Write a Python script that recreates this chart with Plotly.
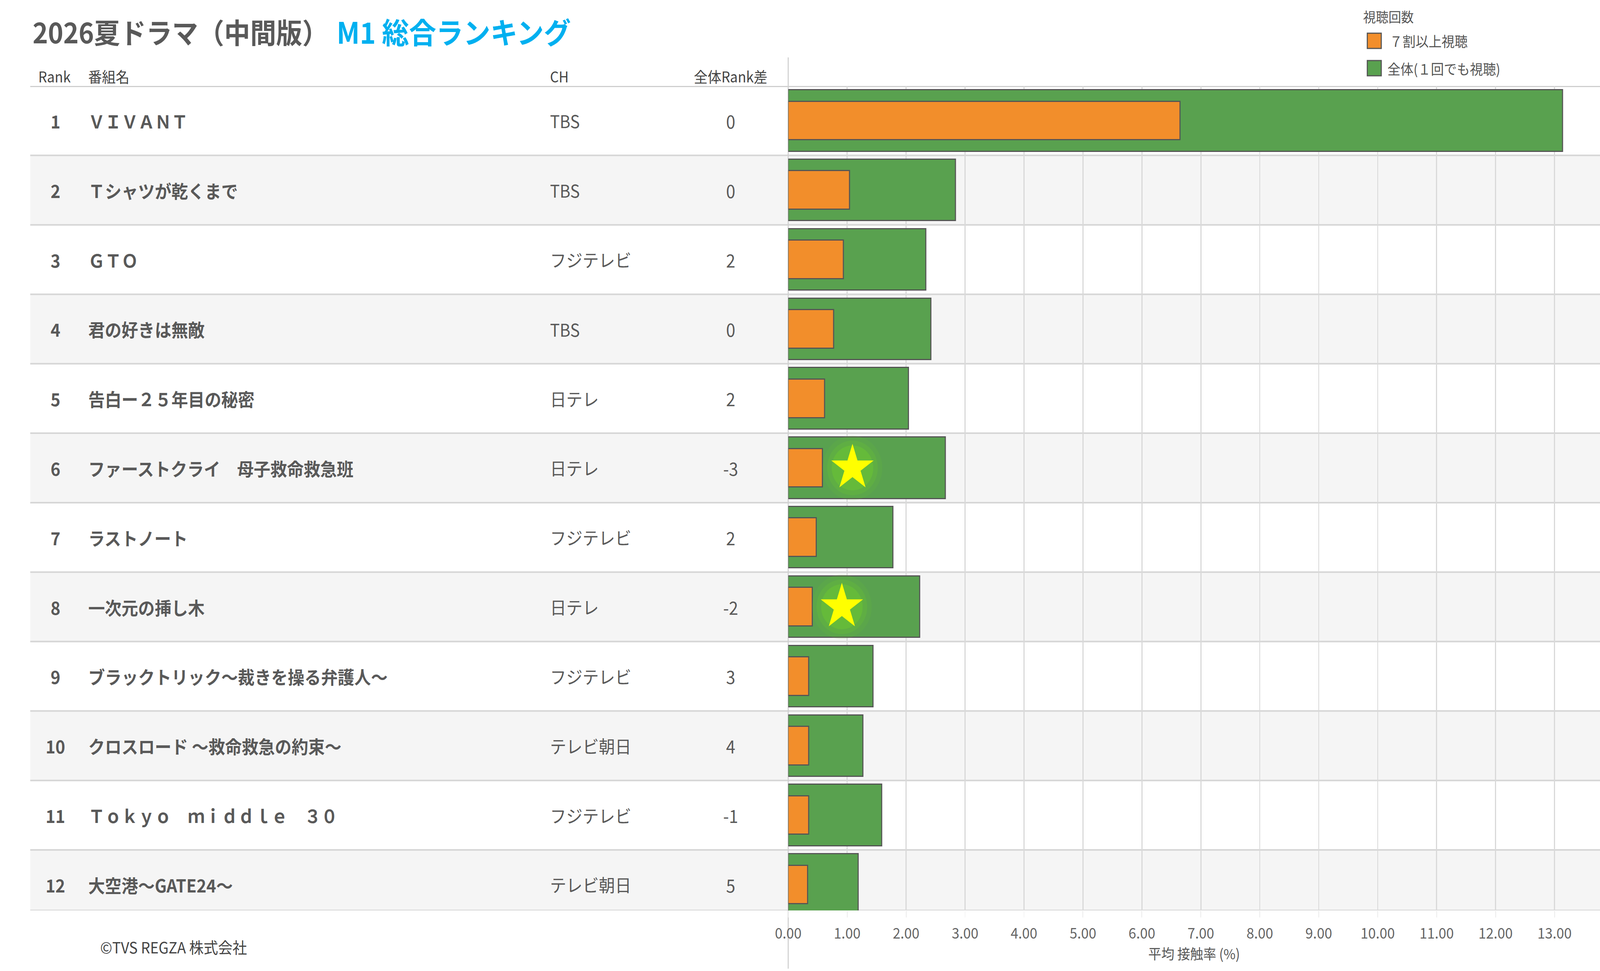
import plotly.graph_objects as go

# --- data ---
ranks = list(range(1, 13))
titles = [
    "ＶＩＶＡＮＴ",
    "Ｔシャツが乾くまで",
    "ＧＴＯ",
    "君の好きは無敵",
    "告白ー２５年目の秘密",
    "ファーストクライ　母子救命救急班",
    "ラストノート",
    "一次元の挿し木",
    "ブラックトリック～裁きを操る弁護人～",
    "クロスロード ～救命救急の約束～",
    "Ｔｏｋｙｏ　ｍｉｄｄｌｅ　３０",
    "大空港～GATE24～",
]
channels = ["TBS", "TBS", "フジテレビ", "TBS", "日テレ", "日テレ",
            "フジテレビ", "日テレ", "フジテレビ", "テレビ朝日", "フジテレビ", "テレビ朝日"]
rank_diff = [0, 0, 2, 0, 2, -3, 2, -2, 3, 4, -1, 5]

# 平均接触率 (%)
total_rate = [13.14, 2.84, 2.34, 2.42, 2.04, 2.67, 1.78, 2.23, 1.44, 1.27, 1.59, 1.19]   # 全体（１回でも視聴）
heavy_rate = [6.65, 1.04, 0.94, 0.77, 0.62, 0.58, 0.48, 0.41, 0.35, 0.35, 0.35, 0.33]    # ７割以上視聴

star_ranks = [6, 8]
star_x = [1.09, 0.91]

# --- page geometry (pixels) ---
W, H = 4425, 2486
TOP, BOTTOM = 220, 2331
AXIS_LEFT = 2161
PX_PER_UNIT = 164.4
Y_BOTTOM = 12.372          # last row is cut off by the view

FONT = "Noto Sans CJK JP"
TXT = "#595959"
GREEN = "#59A14F"
ORANGE = "#F28E2B"
OUTLINE = "#555555"


def px(x):
    return x / W


def py(y):
    return (BOTTOM - y) / (BOTTOM - TOP)


fig = go.Figure()

fig.add_trace(go.Bar(
    y=ranks, x=total_rate, orientation="h", width=0.885,
    marker=dict(color=GREEN, line=dict(color=OUTLINE, width=3)),
    name="全体(１回でも視聴)", showlegend=False,
))
fig.add_trace(go.Bar(
    y=ranks, x=heavy_rate, orientation="h", width=0.555,
    marker=dict(color=ORANGE, line=dict(color=OUTLINE, width=3)),
    name="７割以上視聴", showlegend=False,
))

# star highlight with a soft green glow
for size, alpha in [(165, 0.12), (140, 0.22), (115, 0.4)]:
    fig.add_trace(go.Scatter(
        x=star_x, y=star_ranks, mode="markers", hoverinfo="skip", showlegend=False,
        marker=dict(symbol="circle", size=size, color=f"rgba(110,205,45,{alpha})", line=dict(width=0)),
    ))
fig.add_trace(go.Scatter(
    x=star_x, y=star_ranks, mode="markers", showlegend=False,
    marker=dict(symbol="star", size=88, color="#FFFF00", line=dict(width=0)),
))

shapes = []
# alternating row bands
for r in ranks:
    if r % 2 == 0:
        shapes.append(dict(type="rect", xref="paper", yref="y", layer="below",
                           x0=px(47), x1=1, y0=r - 0.5, y1=min(r + 0.5, Y_BOTTOM),
                           fillcolor="#F5F5F5", line=dict(width=0)))
# row separators
for r in ranks:
    yb = min(r + 0.5, Y_BOTTOM)
    shapes.append(dict(type="line", xref="paper", yref="y", layer="below",
                       x0=px(47), x1=1, y0=yb, y1=yb,
                       line=dict(color="#D6D6D6", width=4)))
shapes.append(dict(type="line", xref="paper", yref="y", layer="below",
                   x0=px(47), x1=1, y0=0.5, y1=0.5,
                   line=dict(color="#CFCFCF", width=6)))
# zero axis line spanning header to axis title
shapes.append(dict(type="line", xref="paper", yref="paper", layer="below",
                   x0=px(AXIS_LEFT), x1=px(AXIS_LEFT), y0=py(2480), y1=py(147),
                   line=dict(color="#D0D0D0", width=3)))
# legend swatches
for y0, y1, col in [(85, 124, ORANGE), (155, 194, GREEN)]:
    shapes.append(dict(type="rect", xref="paper", yref="paper",
                       x0=px(3776), x1=px(3815), y0=py(y1), y1=py(y0),
                       fillcolor=col, line=dict(color=OUTLINE, width=3)))

ann = []


def text(x, y, s, size, color=TXT, anchor="left", yref="paper", bold=False):
    ann.append(dict(
        x=x, y=y, xref="paper", yref=yref, text=f"<b>{s}</b>" if bold else s,
        showarrow=False, xanchor=anchor, yanchor="middle",
        font=dict(family=FONT, size=size, color=color),
    ))


# title
text(px(51), py(79), "2026夏ドラマ（中間版）", 72, color="#595959", bold=True)
text(px(900), py(79), "M1 総合ランキング", 75, color="#00B0F0", bold=True)

# table header
text(px(68), py(195), "Rank", 38, color="#444444")
text(px(207), py(195), "番組名", 38, color="#444444")
text(px(1495), py(195), "CH", 38, color="#444444")
text(px(2001), py(195), "全体Rank差", 38, color="#444444", anchor="center")

# table body
for r, t, ch, d in zip(ranks, titles, channels, rank_diff):
    text(px(117), r, str(r), 46, anchor="center", yref="y", bold=True)
    text(px(207), r, t, 46, yref="y", bold=True)
    text(px(1495), r, ch, 45, yref="y")
    text(px(2001), r, str(d), 46, anchor="center", yref="y")

# legend
text(px(3762), py(42), "視聴回数", 35, color="#555555")
text(px(3836), py(104), "７割以上視聴", 36, color="#555555")
text(px(3830), py(175), "全体(１回でも視聴)", 36, color="#555555")

# footer
text(px(240), py(2424), "©TVS REGZA 株式会社", 40, color="#444444")

fig.update_layout(
    width=W, height=H,
    margin=dict(l=0, r=0, t=TOP, b=H - BOTTOM, pad=0),
    paper_bgcolor="white", plot_bgcolor="white",
    barmode="overlay", bargap=0,
    shapes=shapes, annotations=ann,
    font=dict(family=FONT, color=TXT),
    xaxis=dict(
        domain=[px(AXIS_LEFT), 1],
        range=[0, (W - AXIS_LEFT) / PX_PER_UNIT],
        dtick=1, tick0=0, tickformat=".2f",
        showgrid=True, gridcolor="#D9D9D9", gridwidth=3,
        zeroline=False, showline=False,
        ticks="outside", ticklen=17, tickwidth=2, tickcolor="#EBEBEB",
        ticklabelstandoff=8,
        tickfont=dict(family=FONT, size=38, color="#666666"),
        title=dict(text="平均 接触率 (%)", standoff=18,
                   font=dict(family=FONT, size=36, color="#555555")),
        fixedrange=True,
    ),
    yaxis=dict(
        range=[Y_BOTTOM, 0.5], visible=False, fixedrange=True,
    ),
)

# stretch the fixed-size figure over whatever CSS viewport the window really has
fit_js = """
var gd = document.getElementById('{plot_id}');
var sx = window.innerWidth / %d, sy = window.innerHeight / %d;
document.documentElement.style.margin = '0';
document.body.style.margin = '0';
document.documentElement.style.overflow = 'hidden';
document.body.style.overflow = 'hidden';
gd.style.position = 'absolute';
gd.style.left = '0';
gd.style.top = '0';
gd.style.transformOrigin = '0 0';
gd.style.transform = 'scale(' + sx + ',' + sy + ')';
""" % (W, H)

fig.write_html("out.html", post_script=fit_js, config={"displayModeBar": False})
